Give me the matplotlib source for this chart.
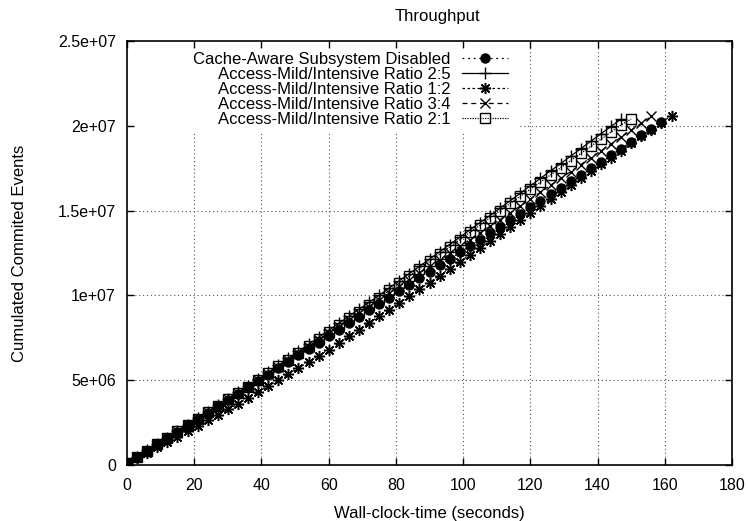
import matplotlib
matplotlib.use("Agg")
import matplotlib.pyplot as plt
from matplotlib.patches import Rectangle
from matplotlib.ticker import FuncFormatter

plt.rcParams['font.family'] = ['Liberation Sans', 'DejaVu Sans']

# sampling step of the runs (seconds)
step = 3

# cumulated committed events, in millions, one sample every 3 s
disabled = [0.10, 0.47, 0.85, 1.22, 1.59, 1.97, 2.34, 2.71, 3.09, 3.46,
            3.83, 4.20, 4.58, 4.95, 5.33, 5.71, 6.09, 6.47, 6.84, 7.22,
            7.60, 7.98, 8.36, 8.74, 9.12, 9.49, 9.87, 10.25, 10.63, 11.01,
            11.39, 11.77, 12.15, 12.53, 12.91, 13.29, 13.67, 14.05, 14.43, 14.81,
            15.19, 15.58, 15.96, 16.35, 16.73, 17.12, 17.50, 17.89, 18.27, 18.66,
            19.04, 19.43, 19.81, 20.20]
ratio_2_5 = [0.10, 0.48, 0.86, 1.24, 1.62, 2.00, 2.38, 2.77, 3.15, 3.53,
             3.91, 4.29, 4.67, 5.05, 5.46, 5.87, 6.29, 6.70, 7.11, 7.53,
             7.94, 8.35, 8.76, 9.18, 9.59, 10.00, 10.43, 10.86, 11.29, 11.71,
             12.14, 12.57, 13.00, 13.43, 13.86, 14.29, 14.71, 15.15, 15.58, 16.02,
             16.46, 16.90, 17.34, 17.77, 18.21, 18.65, 19.09, 19.53, 19.96, 20.40]
ratio_1_2 = [0.10, 0.41, 0.73, 1.04, 1.35, 1.67, 1.99, 2.31, 2.64, 2.96,
             3.28, 3.60, 3.95, 4.30, 4.65, 5.00, 5.36, 5.72, 6.08, 6.44,
             6.80, 7.19, 7.59, 7.98, 8.38, 8.77, 9.16, 9.56, 9.95, 10.36,
             10.76, 11.17, 11.58, 11.98, 12.39, 12.79, 13.20, 13.61, 14.02, 14.43,
             14.84, 15.26, 15.67, 16.08, 16.49, 16.90, 17.31, 17.72, 18.13, 18.54,
             18.96, 19.37, 19.78, 20.19, 20.60]
ratio_3_4 = [0.10, 0.48, 0.85, 1.23, 1.61, 1.98, 2.36, 2.74, 3.11, 3.49,
             3.87, 4.25, 4.62, 5.00, 5.39, 5.79, 6.18, 6.58, 6.97, 7.37,
             7.76, 8.16, 8.55, 8.95, 9.34, 9.74, 10.13, 10.53, 10.92, 11.32,
             11.71, 12.11, 12.50, 12.89, 13.29, 13.68, 14.08, 14.47, 14.87, 15.27,
             15.68, 16.08, 16.49, 16.90, 17.30, 17.71, 18.12, 18.52, 18.93, 19.33,
             19.74, 20.15, 20.55]
ratio_2_1 = [0.10, 0.48, 0.85, 1.23, 1.61, 1.98, 2.36, 2.74, 3.11, 3.49,
             3.87, 4.25, 4.62, 5.00, 5.41, 5.81, 6.22, 6.62, 7.03, 7.43,
             7.84, 8.24, 8.65, 9.05, 9.46, 9.86, 10.29, 10.71, 11.14, 11.57,
             12.00, 12.43, 12.86, 13.29, 13.71, 14.14, 14.57, 15.00, 15.42, 15.84,
             16.26, 16.68, 17.10, 17.52, 17.95, 18.37, 18.79, 19.21, 19.63, 20.05,
             20.40]

labels = ['Cache-Aware Subsystem Disabled',
          'Access-Mild/Intensive Ratio 2:5',
          'Access-Mild/Intensive Ratio 1:2',
          'Access-Mild/Intensive Ratio 3:4',
          'Access-Mild/Intensive Ratio 2:1']
x_ticks = [0, 20, 40, 60, 80, 100, 120, 140, 160, 180]
y_ticks = [0, 5e6, 1e7, 1.5e7, 2e7, 2.5e7]

styles = [
    dict(ls=(0, (1.5, 3)), marker='o', ms=6.5, mfc='black'),
    dict(ls='-', marker='+', ms=8, mew=1.0),
    dict(ls=(0, (2, 2)), marker=(8, 2, 0), ms=8, mew=1.1),
    dict(ls=(0, (4, 3)), marker='x', ms=7, mew=1.0),
    dict(ls=(0, (1, 1)), marker='s', ms=7, mfc='none', mew=1.0),
]

fig = plt.figure(figsize=(7.48, 5.21), dpi=100)
ax = fig.add_axes([127 / 748, 1 - 465 / 521, 605 / 748, 424 / 521])

series = [disabled, ratio_2_5, ratio_1_2, ratio_3_4, ratio_2_1]
for vals, lab, st in zip(series, labels, styles):
    t = [i * step for i in range(len(vals))]
    ax.plot(t, [v * 1e6 for v in vals], color='black', lw=0.9, label=lab, **st)

ax.set_xlim(0, 180)
ax.set_ylim(0, 2.5e7)
ax.set_xticks(x_ticks)
ax.set_yticks(y_ticks)
ax.yaxis.set_major_formatter(FuncFormatter(lambda v, p: '%g' % v))
ax.tick_params(direction='in', length=5, width=1, top=True, right=True,
               labelsize=11.5, colors='black')
ax.tick_params(axis='y', pad=8)
ax.tick_params(axis='x', pad=9)

# grid under the key box, ticks stay on top (gnuplot style)
grid_kw = dict(ls=(0, (1, 2.5)), color='#555555', lw=0.8, zorder=1)
for xt in x_ticks[1:-1]:
    ax.axvline(xt, **grid_kw)
for yt in y_ticks[1:-1]:
    ax.axhline(yt, **grid_kw)
ax.add_patch(Rectangle((0, 0.795), 0.646, 0.205, transform=ax.transAxes,
                       facecolor='white', edgecolor='none', zorder=1.2))
for s in ax.spines.values():
    s.set_linewidth(1.2)

ax.set_xlabel('Wall-clock-time (seconds)', fontsize=12, labelpad=10)
ax.set_ylabel('Cumulated Commited Events', fontsize=12, labelpad=22)
fig.text(437 / 748, 1 - 16 / 521, 'Throughput', ha='center', va='center', fontsize=12)

leg = ax.legend(loc='upper right', bbox_to_anchor=(0.635, 0.982), markerfirst=False,
                frameon=True, fancybox=False, framealpha=1, edgecolor='white',
                facecolor='white', fontsize=12, handlelength=2.75,
                handletextpad=0.7, labelspacing=0.0, borderpad=0.2,
                borderaxespad=0)

fig.savefig('out.png', dpi=100)
